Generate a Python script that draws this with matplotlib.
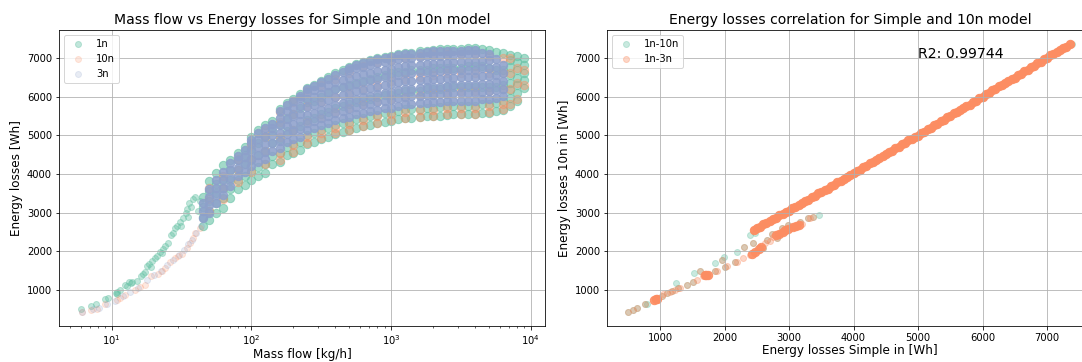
import matplotlib.pyplot as plt

# colours (Set2)
green = "#66c2a5"
orange = "#fc8d62"
blue = "#8da0cb"

# ---- left panel: mass flow [kg/h] vs energy losses [Wh] ----
# sparse low-flow tail
tail_1n_flow = [6.0, 7.1, 7.7, 8.9, 9.5, 10.7, 11.5, 12.4, 13.3, 15.1, 16.2, 17.3, 18.6, 20.4, 22.2,
                25.4, 26.6, 30.8, 33.9, 37.0, 39.5, 36.0, 28.5, 24.0, 19.5, 14.0, 11.0, 41.5, 43.0,
                35.0, 31.5, 38.0, 10.9, 13.8, 17.8, 21.0, 23.5, 29.5, 34.5, 12.8, 16.8, 19.0,
                22.8, 27.5, 32.5]
tail_1n_loss = [509, 586, 646, 767, 801, 930, 1000, 1129, 1199, 1233, 1370, 1473, 1664, 1819, 1991,
                2207, 2422, 2766, 2983, 3154, 3413, 3250, 2600, 2150, 1750, 1220, 950, 3050, 3300,
                2900, 2650, 3350, 900, 1180, 1620, 1870, 2050, 2650, 3100, 1100, 1420, 1600,
                1950, 2480, 2850]

tail_10n_flow = [6.1, 7.1, 7.8, 9.0, 10.9, 12.4, 14.7, 17.3, 19.3, 21.6, 24.1, 26.1, 28.4, 31.7,
                 34.4, 36.3, 38.4, 39.5, 42.9, 11.5, 16.0, 23.0, 30.0]
tail_10n_loss = [423, 483, 509, 630, 741, 871, 1000, 1129, 1370, 1405, 1561, 1716, 1819, 1923,
                 2078, 2207, 2336, 2466, 2596, 800, 1080, 1500, 1870]

tail_3n_flow = [6.1, 7.3, 8.1, 9.3, 10.5, 12.0, 13.5, 15.5, 18.0, 20.0, 22.5, 25.0, 27.5, 30.5,
                33.0, 35.5, 37.5, 40.5, 43.5]
tail_3n_loss = [430, 500, 540, 640, 720, 850, 940, 1060, 1250, 1390, 1480, 1650, 1780, 1900,
                2030, 2180, 2300, 2480, 2650]

# dense cloud, one entry per mass flow column: (flow, losses)
cloud_1n = [
    (45, [2650, 2900, 3150, 3400]),
    (50, [2800, 3050, 3300, 3550, 3820]),
    (56, [3000, 3250, 3500, 3750, 4030]),
    (63, [3130, 3380, 3630, 3880, 4230]),
    (70, [3390, 3600, 3850, 4100, 4370]),
    (80, [3620, 3850, 4100, 4350, 4550]),
    (90, [3720, 3950, 4250, 4500, 4700]),
    (100, [3850, 4070, 4350, 4650, 4960]),
    (112, [3960, 4180, 4500, 4800, 5140]),
    (125, [4030, 4250, 4600, 4950, 5270]),
    (140, [4250, 4470, 4800, 5100, 5380]),
    (160, [4320, 4540, 4900, 5300, 5690]),
    (180, [4480, 4700, 5100, 5450, 5840]),
    (200, [4550, 4770, 5150, 5550, 5940]),
    (225, [4610, 4830, 5250, 5700, 6060]),
    (250, [4780, 5000, 5400, 5850, 6230]),
    (280, [4830, 5050, 5450, 5900, 6310]),
    (315, [4910, 5130, 5550, 6000, 6410]),
    (355, [4960, 5180, 5600, 6100, 6500]),
    (400, [5040, 5260, 5700, 6200, 6610]),
    (450, [5090, 5310, 5750, 6250, 6690]),
    (500, [5130, 5350, 5800, 6300, 6760]),
    (560, [5190, 5410, 5850, 6350, 6840]),
    (630, [5230, 5450, 5900, 6400, 6890]),
    (710, [5270, 5490, 5950, 6450, 6940]),
    (800, [5310, 5530, 6000, 6500, 6990]),
    (900, [5350, 5570, 6050, 6550, 7020]),
    (1000, [5370, 5590, 6050, 6600, 7050]),
    (1120, [5420, 5640, 6100, 6650, 7100]),
    (1250, [5450, 5670, 6150, 6650, 7130]),
    (1400, [5460, 5680, 6150, 6700, 7140]),
    (1600, [5470, 5690, 6150, 6700, 7170]),
    (1800, [5490, 5710, 6200, 6700, 7180]),
    (2000, [5500, 5720, 6200, 6750, 7210]),
    (2250, [5510, 5730, 6200, 6750, 7230]),
    (2500, [5530, 5750, 6250, 6750, 7230]),
    (2800, [5540, 5760, 6250, 6750, 7230]),
    (3150, [5550, 5770, 6250, 6750, 7240]),
    (3550, [5550, 5770, 6250, 6800, 7250]),
    (4000, [5550, 5770, 6250, 6800, 7260]),
    (4500, [5580, 5800, 6250, 6800, 7240]),
    (5000, [5590, 5810, 6250, 6750, 7200]),
    (5600, [5620, 5840, 6250, 6700, 7160]),
    (6300, [5660, 5880, 6300, 6700, 7120]),
    (7100, [5760, 5960, 6160, 6360, 6560, 6760, 6960, 7090]),
    (8000, [5890, 6090, 6290, 6490, 6690, 6890, 7040]),
    (8900, [6220, 6420, 6620, 6820, 6990]),
]

cloud_10n = [
    (50, [3050, 3350, 3650]),
    (63, [3350, 3650, 3950]),
    (80, [3800, 4100, 4400]),
    (100, [4050, 4400, 4750]),
    (125, [4250, 4600, 4950, 5150]),
    (160, [4350, 4550, 4950, 5350, 5600]),
    (200, [4570, 4750, 5150, 5550, 5850]),
    (250, [4800, 4950, 5350, 5750, 6150]),
    (315, [4930, 5050, 5450, 5850, 6300]),
    (400, [5060, 5200, 5600, 6000, 6450]),
    (500, [5150, 5300, 5700, 6100, 6600]),
    (630, [5250, 5400, 5800, 6200, 6800]),
    (800, [5330, 5500, 5900, 6300, 6900]),
    (1000, [5390, 5550, 5950, 6400, 6950]),
    (1250, [5460, 5600, 6000, 6450, 7000]),
    (1600, [5480, 5650, 6050, 6500, 7050]),
    (2000, [5510, 5650, 6100, 6550, 7100]),
    (2500, [5540, 5700, 6100, 6600, 7100]),
    (3150, [5560, 5700, 6150, 6600, 7100]),
    (4000, [5560, 5700, 6150, 6600, 7100]),
    (5000, [5600, 5750, 6150, 6600, 7050]),
    (6300, [5670, 5800, 6200, 6600, 7000]),
    (7100, [5800, 6200, 6600, 7000]),
    (8000, [5950, 6350, 6750]),
    (8900, [6300, 6700]),
]

cloud_3n = [
    (45, [2850, 3050, 3250]),
    (50, [3000, 3200, 3400, 3600]),
    (56, [3250, 3450, 3650, 3850]),
    (63, [3450, 3650, 3850, 4050]),
    (70, [3700, 3900, 4100, 4280]),
    (80, [3950, 4150, 4350, 4470]),
    (90, [4050, 4250, 4450, 4620]),
    (100, [4200, 4400, 4600, 4800, 4880]),
    (112, [4300, 4500, 4700, 4900, 5050]),
    (125, [4380, 4580, 4780, 4980, 5180]),
    (140, [4600, 4800, 5000, 5200, 5300]),
    (160, [4660, 4860, 5060, 5260, 5460, 5620]),
    (180, [4830, 5030, 5230, 5430, 5630, 5780]),
    (200, [4900, 5100, 5300, 5500, 5700, 5880]),
    (225, [4960, 5160, 5360, 5560, 5760, 5960, 6020]),
    (250, [5130, 5330, 5530, 5730, 5930, 6130, 6200]),
    (280, [5180, 5380, 5580, 5780, 5980, 6180, 6280]),
    (315, [5260, 5460, 5660, 5860, 6060, 6260, 6380]),
    (355, [5310, 5510, 5710, 5910, 6110, 6310, 6460]),
    (400, [5390, 5590, 5790, 5990, 6190, 6390, 6560]),
    (450, [5440, 5640, 5840, 6040, 6240, 6440, 6640]),
    (500, [5480, 5680, 5880, 6080, 6280, 6480, 6680, 6740]),
    (560, [5540, 5740, 5940, 6140, 6340, 6540, 6740, 6820]),
    (630, [5580, 5780, 5980, 6180, 6380, 6580, 6780, 6870]),
    (710, [5620, 5820, 6020, 6220, 6420, 6620, 6820, 6920]),
    (800, [5660, 5860, 6060, 6260, 6460, 6660, 6860, 6970]),
    (900, [5700, 5900, 6100, 6300, 6500, 6700, 6900, 7000]),
    (1000, [5720, 5920, 6120, 6320, 6520, 6720, 6920, 7020]),
    (1120, [5770, 5970, 6170, 6370, 6570, 6770, 6970, 7070]),
    (1250, [5800, 6000, 6200, 6400, 6600, 6800, 7000, 7100]),
    (1400, [5810, 6010, 6210, 6410, 6610, 6810, 7010, 7110]),
    (1600, [5830, 6030, 6230, 6430, 6630, 6830, 7030, 7140]),
    (1800, [5840, 6040, 6240, 6440, 6640, 6840, 7040, 7150]),
    (2000, [5850, 6050, 6250, 6450, 6650, 6850, 7050, 7170]),
    (2250, [5860, 6060, 6260, 6460, 6660, 6860, 7060, 7190]),
    (2500, [5880, 6080, 6280, 6480, 6680, 6880, 7080, 7190]),
    (2800, [5890, 6090, 6290, 6490, 6690, 6890, 7090, 7190]),
    (3150, [5900, 6100, 6300, 6500, 6700, 6900, 7100, 7190]),
    (3550, [5900, 6100, 6300, 6500, 6700, 6900, 7100, 7200]),
    (4000, [5900, 6100, 6300, 6500, 6700, 6900, 7100, 7200]),
    (4500, [5930, 6130, 6330, 6530, 6730, 6930, 7130]),
    (5000, [5940, 6140, 6340, 6540, 6740, 6940, 7100]),
    (5600, [5970, 6170, 6370, 6570, 6770, 6970]),
    (6300, [6010, 6210, 6410, 6610, 6810]),
]

# ---- right panel: simple model losses vs 10n / 3n losses [Wh] ----
simple_a = [509, 586, 648, 767, 803, 922, 1026, 1104, 1181, 1248, 1284, 1414, 1516, 1527, 1620,
            1698, 1853, 1853, 1956, 1992, 2008, 2163, 2189, 2302, 2395, 2447, 2473, 2524, 2602,
            2654, 2731, 2809, 2887, 2989, 3093, 3171, 3299, 3377, 3470,
            2600, 3000, 3500, 4000, 4500, 5000, 5500, 6000, 6500, 7000, 7380]
loss_10n = [423, 483, 526, 630, 638, 767, 853, 915, 982, 1173, 1044, 1129, 1215, 1432, 1491,
            1388, 1491, 1690, 1776, 1846, 1603, 1716, 1975, 2120, 2422, 2207, 2466, 2637, 2078,
            2293, 2440, 2337, 2596, 2681, 2637, 2766, 2854, 2896, 2940,
            2680, 3060, 3540, 4030, 4510, 5010, 5500, 6000, 6500, 6990, 7370]

simple_b = [509, 586, 648, 767, 922, 1026, 1104, 1181, 1284, 1414, 1516, 1620, 1698, 1853, 1956,
            2008, 2163, 2302, 2447, 2602, 2654, 2731, 2809, 2887, 2989, 3093, 3171, 3299, 3377,
            1051, 1155, 1233, 1310, 1569, 1671, 1879, 2034, 2189, 2292, 2395, 2473, 2550, 2628,
            2705, 2757, 2860, 2912, 2964, 3067, 3145, 3197, 3326]
loss_3n = [423, 483, 526, 630, 767, 853, 915, 982, 1044, 1129, 1215, 1491, 1388, 1491, 1776,
           1603, 1716, 2120, 2207, 2078, 2293, 2440, 2337, 2596, 2681, 2637, 2766, 2854, 2896,
           889, 956, 1000, 1044, 1259, 1370, 1491, 1628, 1732, 1819, 1905, 1991, 2120, 2207,
           2267, 2379, 2466, 2508, 2577, 2637, 2681, 2699, 2854]

# heavily overplotted 1n-3n points: clumps on the lower branch ...
clump_simple = [905, 930, 955, 1690, 1715, 1740, 2430, 2480, 2530, 2570, 2800, 2850, 2900, 2940,
                2980, 3060, 3110, 3150]
clump_3n = [752, 765, 778, 1380, 1390, 1400, 1930, 1990, 2070, 2120, 2420, 2460, 2500, 2540,
            2580, 2620, 2650, 2680]
# ... and the straight band
band_simple = [2450, 2500, 2550, 2600, 2650, 2700, 2750, 2800, 2850, 2900, 2950, 3000, 3050, 3100,
               3150, 3200, 3250, 3300, 3350, 3400, 3450, 3500, 3550, 3600, 3650, 3700, 3750, 3800,
               3850, 3900, 3950, 4000, 4050, 4100, 4150, 4200, 4250, 4300, 4350, 4400, 4450, 4500,
               4550, 4600, 4650, 4700, 4750, 4800, 4850, 4900, 4950, 5000, 5050, 5100, 5150, 5200,
               5250, 5300, 5350, 5400, 5450, 5500, 5550, 5600, 5650, 5700, 5750, 5800, 5850, 5900,
               5950, 6000, 6050, 6100, 6150, 6200, 6250, 6300, 6350, 6400, 6450, 6500, 6550, 6600,
               6650, 6700, 6750, 6800, 6850, 6900, 6950, 7000, 7050, 7100, 7150, 7200, 7250, 7300,
               7350]
band_3n = [2540, 2600, 2630, 2700, 2730, 2780, 2830, 2860, 2930, 2960, 3030, 3050, 3110, 3140,
           3210, 3240, 3310, 3340, 3410, 3440, 3500, 3530, 3590, 3620, 3690, 3720, 3790, 3820,
           3880, 3920, 3980, 4020, 4080, 4110, 4180, 4210, 4280, 4310, 4370, 4410, 4470, 4510,
           4570, 4600, 4670, 4700, 4770, 4800, 4870, 4900, 4970, 4995, 5065, 5095, 5165, 5195,
           5265, 5295, 5365, 5395, 5465, 5495, 5565, 5595, 5665, 5695, 5765, 5795, 5865, 5895,
           5965, 5995, 6065, 6095, 6165, 6195, 6265, 6295, 6365, 6395, 6465, 6495, 6565, 6595,
           6665, 6695, 6765, 6795, 6865, 6895, 6965, 6995, 7065, 7095, 7165, 7195, 7265, 7295,
           7360]


def unpack(cols):
    xs, ys = [], []
    for x, col in cols:
        xs += [x] * len(col)
        ys += col
    return xs, ys


fig = plt.figure(figsize=(1082 / 72, 362 / 72), dpi=72)
ax1 = fig.add_axes([0.0545, 0.0994, 0.4492, 0.8177])
ax2 = fig.add_axes([0.561, 0.0994, 0.4492, 0.8177])

big = 70  # the cloud is thousands of points in the original; fewer, fatter dots here

# left
ax1.scatter(tail_1n_flow, tail_1n_loss, color=green, alpha=0.4, label="1n")
ax1.scatter(*unpack(cloud_1n), s=big, color=green, alpha=0.6)
ax1.scatter(tail_10n_flow, tail_10n_loss, color=orange, alpha=0.2, label="10n")
ax1.scatter(*unpack(cloud_10n), s=big, color=orange, alpha=0.4)
ax1.scatter(tail_3n_flow, tail_3n_loss, color=blue, alpha=0.2, label="3n")
ax1.scatter(*unpack(cloud_3n), s=big, color=blue, alpha=0.88)
ax1.set_xscale("log")
ax1.set_xlim(4.2, 12660)
ax1.set_ylim(69, 7724)
ax1.grid(True)
ax1.set_title("Mass flow vs Energy losses for Simple and 10n model", fontsize=14)
ax1.set_xlabel("Mass flow [kg/h]", fontsize=12, labelpad=1)
ax1.set_ylabel("Energy losses [Wh]", fontsize=12)
ax1.legend(loc="upper left")

# right
ax2.scatter(simple_a, loss_10n, color=green, alpha=0.35, label="1n-10n")
ax2.scatter(simple_b, loss_3n, color=orange, alpha=0.35, label="1n-3n")
ax2.scatter(clump_simple, clump_3n, s=big, color=orange, alpha=0.9)
ax2.scatter(band_simple, band_3n, s=big, color=orange, alpha=0.97)
ax2.set_xlim(178, 7713)
ax2.set_ylim(69, 7724)
ax2.grid(True)
ax2.text(5000, 7000, "R2: 0.99744", fontsize=14)
ax2.set_title("Energy losses correlation for Simple and 10n model", fontsize=14)
ax2.set_xlabel("Energy losses Simple in [Wh]", fontsize=12, labelpad=1)
ax2.set_ylabel("Energy losses 10n in [Wh]", fontsize=12)
ax2.legend(loc="upper left")

fig.savefig("out.png", dpi=72)
